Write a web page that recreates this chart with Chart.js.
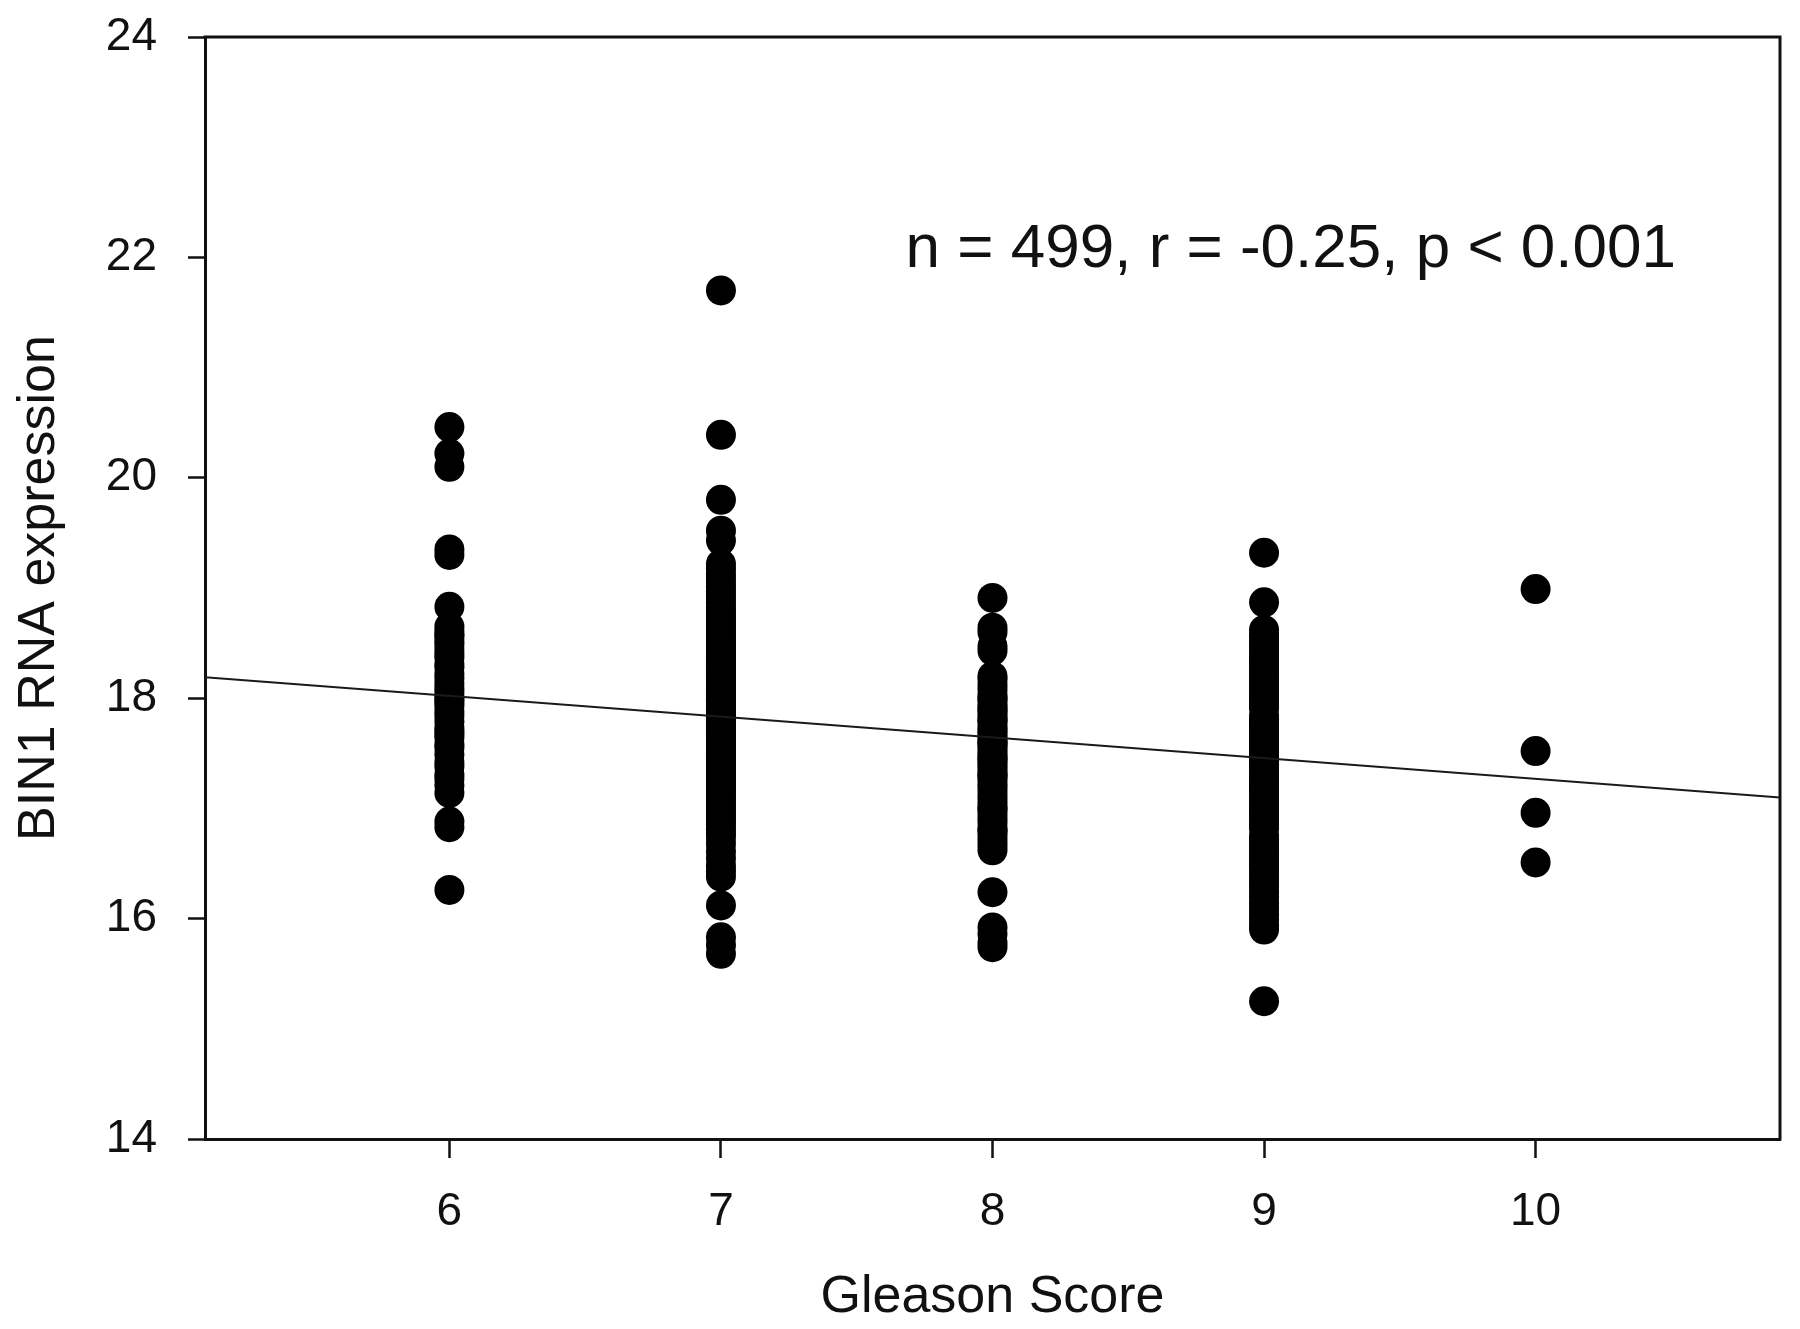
<!DOCTYPE html>
<html>
<head>
<meta charset="utf-8">
<script src="https://cdn.jsdelivr.net/npm/chart.js@4/dist/chart.umd.min.js"></script>
<style>
  html, body { margin: 0; padding: 0; background: #ffffff; }
  #wrap { width: 1800px; height: 1329px; }
</style>
</head>
<body>
<div id="wrap"><canvas id="c" width="1800" height="1329"></canvas></div>
<script>
// ---------------- DATA ----------------
const xTicks = [6, 7, 8, 9, 10];
const yTicks = [14, 16, 18, 20, 22, 24];
const xTitle = 'Gleason Score';
const yTitle = 'BIN1 RNA expression';
const statsText = 'n = 499, r = -0.25, p < 0.001';

const gleason6 = [20.46, 20.22, 20.10, 19.35, 19.30, 18.83,
  18.65, 18.61, 18.58, 18.56, 18.52, 18.49, 18.44, 18.40, 18.37, 18.31, 18.28, 18.22,
  18.18, 18.13, 18.09, 18.05, 18.01, 17.99, 17.96, 17.93, 17.88, 17.84, 17.79, 17.73,
  17.70, 17.67, 17.64, 17.58, 17.55, 17.49, 17.42, 17.38, 17.31, 17.27, 17.21, 17.14,
  16.88, 16.83, 16.26];

const gleason7 = [21.70, 20.39, 19.80, 19.52, 19.43,
  19.22, 19.18, 19.13, 19.09, 19.05, 19.01, 18.97, 18.94, 18.90, 18.87, 18.83, 18.80,
  18.77, 18.74, 18.71, 18.69, 18.66, 18.63, 18.61, 18.58, 18.56, 18.53, 18.51, 18.49,
  18.46, 18.44, 18.42, 18.40, 18.38, 18.36, 18.34, 18.32, 18.30, 18.28, 18.26, 18.25,
  18.23, 18.21, 18.19, 18.17, 18.16, 18.14, 18.12, 18.10, 18.09, 18.07, 18.05, 18.04,
  18.02, 18.00, 17.99, 17.97, 17.96, 17.94, 17.92, 17.91, 17.89, 17.88, 17.86, 17.84,
  17.83, 17.81, 17.80, 17.78, 17.76, 17.75, 17.73, 17.72, 17.70, 17.68, 17.67, 17.65,
  17.63, 17.62, 17.60, 17.58, 17.57, 17.55, 17.53, 17.51, 17.49, 17.47, 17.45, 17.43,
  17.41, 17.39, 17.37, 17.35, 17.33, 17.31, 17.28, 17.26, 17.24, 17.21, 17.19, 17.16,
  17.14, 17.11, 17.08, 17.06, 17.03, 17.00, 16.97, 16.94, 16.91, 16.88, 16.85, 16.81,
  16.78, 16.74, 16.68, 16.61, 16.55, 16.48, 16.43, 16.38,
  16.12, 15.83, 15.76, 15.68];

const gleason8 = [18.91, 18.64, 18.60, 18.47, 18.43,
  18.20, 18.17, 18.12, 18.08, 18.03, 18.00, 17.99, 17.95, 17.92, 17.90, 17.88, 17.85,
  17.82, 17.80, 17.79, 17.75, 17.72, 17.70, 17.67, 17.64, 17.61, 17.60, 17.58, 17.56,
  17.53, 17.50, 17.47, 17.45, 17.44, 17.41, 17.38, 17.35, 17.32, 17.30, 17.29, 17.26,
  17.22, 17.19, 17.15, 17.11, 17.07, 17.03, 17.00, 16.99, 16.95, 16.91, 16.87, 16.82,
  16.80, 16.78, 16.74, 16.70, 16.66, 16.62,
  16.24, 15.92, 15.86, 15.78, 15.74];

const gleason9 = [19.32, 18.87,
  18.62, 18.58, 18.55, 18.51, 18.48, 18.45, 18.41, 18.38, 18.35, 18.32, 18.29, 18.26,
  18.23, 18.20, 18.17, 18.14, 18.11, 18.08, 18.05, 18.02, 17.99, 17.96, 17.93, 17.91,
  17.84, 17.81, 17.78, 17.75, 17.73, 17.70, 17.67, 17.64, 17.62, 17.59, 17.56, 17.54,
  17.51, 17.48, 17.46, 17.43, 17.40, 17.38, 17.35, 17.32, 17.29, 17.27, 17.24, 17.21,
  17.18, 17.15, 17.12, 17.09, 17.06, 17.03, 17.00, 16.97, 16.94, 16.91, 16.88, 16.85,
  16.82, 16.75, 16.72, 16.69, 16.66, 16.63, 16.60, 16.57, 16.54, 16.51, 16.48, 16.45,
  16.41, 16.37, 16.33, 16.29, 16.24, 16.19, 16.14, 16.09, 16.04, 15.99, 15.94, 15.90,
  15.25];

const gleason10 = [18.99, 17.52, 16.96, 16.51];

// regression line end points
const fitX = [5.1, 10.9];
const fitY = [18.19, 17.10];

// ---------------- BUILD ----------------
const groups = [[6, gleason6], [7, gleason7], [8, gleason8], [9, gleason9], [10, gleason10]];
const points = [];
groups.forEach(([g, vals]) => vals.forEach(v => points.push({ x: g, y: v })));
const fitPoints = fitX.map((x, i) => ({ x: x, y: fitY[i] }));

const FONT = "'Liberation Sans', Arial, sans-serif";
const INK = '#111111';

const framePlugin = {
  id: 'frame',
  afterDraw(chart) {
    const { ctx, chartArea: a } = chart;
    ctx.save();
    ctx.strokeStyle = INK;
    ctx.lineWidth = 3;
    ctx.beginPath();
    ctx.moveTo(a.left - 1.5, a.top);
    ctx.lineTo(a.right, a.top);
    ctx.lineTo(a.right, a.bottom + 1.5);
    ctx.stroke();
    ctx.restore();
  }
};

const statsPlugin = {
  id: 'stats',
  afterDraw(chart) {
    const { ctx, scales } = chart;
    ctx.save();
    ctx.fillStyle = INK;
    ctx.font = '62px ' + FONT;
    ctx.textAlign = 'left';
    ctx.textBaseline = 'alphabetic';
    ctx.fillText(statsText, scales.x.getPixelForValue(7.68), scales.y.getPixelForValue(21.91));
    ctx.restore();
  }
};

function noEdgePadding(s) {
  s.paddingTop = 0; s.paddingBottom = 0; s.paddingLeft = 0; s.paddingRight = 0;
}

new Chart(document.getElementById('c').getContext('2d'), {
  type: 'scatter',
  data: {
    datasets: [
      {
        label: 'fit', type: 'line', data: fitPoints,
        borderColor: '#1a1a1a', borderWidth: 2, pointRadius: 0, fill: false, order: 0
      },
      {
        label: 'BIN1', data: points,
        backgroundColor: '#000000', borderColor: '#000000', borderWidth: 0,
        pointRadius: 15, pointHoverRadius: 15, order: 1
      }
    ]
  },
  options: {
    responsive: false,
    animation: false,
    devicePixelRatio: 1,
    layout: { padding: { left: 0, top: 37, right: 20, bottom: 0 } },
    plugins: { legend: { display: false }, tooltip: { enabled: false } },
    scales: {
      x: {
        type: 'linear', min: 5.1, max: 10.9,
        afterBuildTicks: s => { s.ticks = xTicks.map(v => ({ value: v })); },
        afterFit: s => { s.height = 190; noEdgePadding(s); },
        ticks: { font: { family: FONT, size: 46 }, color: INK, padding: 27, maxRotation: 0 },
        grid: { drawOnChartArea: false, drawTicks: true, tickLength: 19, tickWidth: 2.5, tickColor: INK },
        border: { display: true, color: INK, width: 3 },
        title: { display: true, text: xTitle, font: { family: FONT, size: 52 }, color: INK, padding: { top: 0, bottom: 0 } }
      },
      y: {
        type: 'linear', min: 14, max: 24,
        afterBuildTicks: s => { s.ticks = yTicks.map(v => ({ value: v })); },
        afterFit: s => { s.width = 205; noEdgePadding(s); },
        ticks: { font: { family: FONT, size: 46 }, color: INK, padding: 31 },
        grid: { drawOnChartArea: false, drawTicks: true, tickLength: 17, tickWidth: 2.5, tickColor: INK },
        border: { display: true, color: INK, width: 3 },
        title: { display: true, text: yTitle, font: { family: FONT, size: 52 }, color: INK, padding: { top: 8, bottom: 0 } }
      }
    }
  },
  plugins: [framePlugin, statsPlugin]
});
</script>
</body>
</html>
